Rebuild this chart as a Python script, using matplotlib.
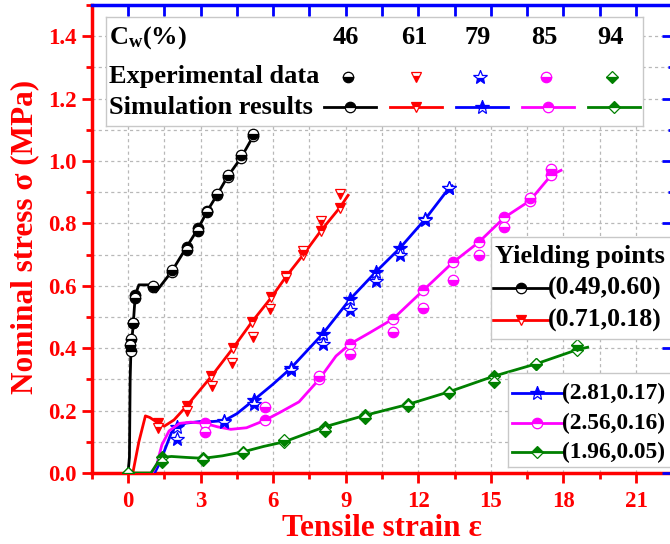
import numpy as np
import matplotlib
matplotlib.use("Agg")
import matplotlib.pyplot as plt
from matplotlib.lines import Line2D
from matplotlib.ticker import MultipleLocator

plt.rcParams['font.family'] = ['Liberation Serif', 'DejaVu Serif']
plt.rcParams['font.weight'] = 'bold'
plt.rcParams['mathtext.fontset'] = 'custom'
plt.rcParams['mathtext.rm'] = 'Liberation Serif:bold'
plt.rcParams['mathtext.it'] = 'Liberation Serif:bold'
plt.rcParams['mathtext.bf'] = 'Liberation Serif:bold'

W, H = 670, 544

# ---- data ----
cw_labels = ['46', '61', '79', '85', '94']
yield_labels = ['(0.49,0.60)', '(0.71,0.18)', '(2.81,0.17)', '(2.56,0.16)', '(1.96,0.05)']
colors = ['black', '#ff0000', '#0000ff', '#ff00ff', '#008000']
markers = ['o', 'v', '*', 'o', 'D']

# Cw = 46 %
sim46_x = [0, 0.06, 0.09, 0.12, 0.22, 0.30, 0.45, 0.85, 1.05, 1.15, 1.80, 2.43, 2.91, 3.28, 3.67, 4.12, 4.67, 5.18]
sim46_y = [0, 0.05, 0.30, 0.39, 0.48, 0.57, 0.603, 0.603, 0.595, 0.58, 0.645, 0.725, 0.785, 0.84, 0.89, 0.95, 1.01, 1.08]
sim46_mk = [3, 4, 5, 8, 10, 11, 12, 13, 14, 15, 16, 17]
exp46_x = [0.10, 0.12, 0.22, 0.30, 1.05, 1.80, 2.43, 2.91, 3.28, 3.67, 4.12, 4.67, 5.18]
exp46_y = [0.41, 0.43, 0.48, 0.56, 0.60, 0.65, 0.715, 0.775, 0.835, 0.895, 0.955, 1.02, 1.085]

# Cw = 61 %
sim61_x = [0.2, 0.45, 0.72, 0.9, 1.25, 1.5, 1.9, 2.43, 3.45, 4.34, 5.13, 5.93, 6.54, 7.25, 7.96, 8.75, 9.1]
sim61_y = [0, 0.10, 0.183, 0.178, 0.16, 0.15, 0.17, 0.215, 0.31, 0.40, 0.485, 0.563, 0.63, 0.70, 0.775, 0.85, 0.89]
sim61_mk = [4, 7, 8, 9, 10, 11, 12, 13, 14, 15]
exp61_x = [1.25, 2.43, 3.46, 4.29, 5.18, 5.87, 6.54, 7.25, 7.96, 8.75]
exp61_y = [0.145, 0.20, 0.278, 0.352, 0.436, 0.527, 0.625, 0.71, 0.808, 0.895]

# Cw = 79 %
sim79_x = [1.1, 1.3, 1.6, 1.8, 2.04, 2.4, 3.0, 3.5, 3.98, 4.5, 5.22, 6.0, 6.72, 8.05, 9.19, 10.25, 11.23, 12.29, 13.26, 13.4]
sim79_y = [0, 0.03, 0.09, 0.13, 0.148, 0.16, 0.165, 0.165, 0.168, 0.19, 0.235, 0.285, 0.335, 0.446, 0.558, 0.645, 0.72, 0.814, 0.912, 0.92]
sim79_mk = [4, 8, 10, 12, 13, 14, 15, 16, 17, 18]
exp79_x = [2.04, 3.98, 5.22, 6.72, 8.05, 9.19, 10.25, 11.23, 12.29, 13.26]
exp79_y = [0.108, 0.165, 0.22, 0.33, 0.414, 0.521, 0.615, 0.70, 0.81, 0.915]

# Cw = 85 %
sim85_x = [1.0, 1.2, 1.4, 1.7, 2.13, 2.6, 3.18, 3.7, 4.25, 4.9, 5.66, 6.3, 7.07, 7.9, 8.6, 9.19, 10.0, 10.96, 12.2, 13.43, 14.49, 15.56, 16.6, 17.5, 17.9]
sim85_y = [0, 0.03, 0.09, 0.135, 0.159, 0.163, 0.159, 0.148, 0.14, 0.145, 0.169, 0.195, 0.228, 0.30, 0.375, 0.414, 0.45, 0.494, 0.585, 0.675, 0.739, 0.819, 0.872, 0.955, 0.97]
sim85_mk = [6, 10, 13, 15, 17, 18, 19, 20, 21, 22, 23]
exp85_x = [3.18, 5.66, 7.9, 9.19, 10.96, 12.2, 13.43, 14.49, 15.56, 16.6, 17.5]
exp85_y = [0.132, 0.212, 0.31, 0.38, 0.452, 0.53, 0.62, 0.70, 0.79, 0.883, 0.975]

# Cw = 94 %
sim94_x = [0, 0.95, 1.2, 1.39, 1.8, 2.4, 3.11, 3.9, 4.77, 5.6, 6.46, 8.13, 9.81, 11.58, 13.26, 15.11, 16.88, 18.56, 19.0]
sim94_y = [0, 0, 0.03, 0.05, 0.053, 0.05, 0.047, 0.055, 0.068, 0.085, 0.10, 0.148, 0.185, 0.22, 0.26, 0.31, 0.35, 0.395, 0.403]
sim94_mk = [0, 3, 6, 8, 10, 11, 12, 13, 14, 15, 16, 17]
exp94_x = [0.0, 1.39, 3.11, 4.77, 6.46, 8.13, 9.81, 11.58, 13.26, 15.11, 16.88, 18.56]
exp94_y = [0.0, 0.035, 0.043, 0.065, 0.105, 0.135, 0.175, 0.215, 0.255, 0.292, 0.35, 0.41]

sims = [(sim46_x, sim46_y, sim46_mk), (sim61_x, sim61_y, sim61_mk), (sim79_x, sim79_y, sim79_mk),
        (sim85_x, sim85_y, sim85_mk), (sim94_x, sim94_y, sim94_mk)]
exps = [(exp46_x, exp46_y), (exp61_x, exp61_y), (exp79_x, exp79_y), (exp85_x, exp85_y), (exp94_x, exp94_y)]
msizes = [7.5, 7.5, 10, 7.5, 6.5]
FS = 19


def px_box(x0, y0, x1, y1):
    return [x0 / W, 1 - y1 / H, (x1 - x0) / W, (y1 - y0) / H]


fig = plt.figure(figsize=(W / 100, H / 100), dpi=100)
ax = fig.add_axes(px_box(91.7, 5, 672.3, 473))

for (sx, sy, mk), (ex, ey), c, m, ms in zip(sims, exps, colors, markers, msizes):
    ax.plot(sx, sy, color=c, lw=2, marker=m, markevery=mk, ms=ms, fillstyle='top',
            markerfacecolor=c, markerfacecoloralt='white', markeredgecolor=c, mew=0.9, zorder=3)
    ax.plot(ex, ey, ls='none', marker=m, ms=ms, fillstyle='bottom',
            markerfacecolor=c, markerfacecoloralt='white', markeredgecolor=c, mew=0.9, zorder=4)

ax.set_xlim(-1.5, 22.5)
ax.set_ylim(0, 1.5)
ax.xaxis.set_minor_locator(MultipleLocator(1.5))
ax.yaxis.set_minor_locator(MultipleLocator(0.1))
ax.set_xticks(np.arange(0, 22, 3))
ax.set_yticks(np.arange(0, 1.41, 0.2))
ax.set_yticklabels([f'{v:.1f}' for v in np.arange(0, 1.41, 0.2)])
ax.grid(True, which='both', ls=(0, (2.5, 2.5)), color='#b8b8b8', lw=0.9)
ax.set_axisbelow(True)
for s in ['top', 'right']:
    ax.spines[s].set_visible(False)
for s in ['left', 'bottom']:
    ax.spines[s].set_color('red')
    ax.spines[s].set_linewidth(2.5)
ax.tick_params(which='major', direction='out', length=7, width=2, color='red', labelcolor='red', labelsize=16.5)
ax.tick_params(which='minor', direction='out', length=4, width=2, color='red')
ax.tick_params(axis='x', pad=6)
ax.tick_params(axis='y', pad=4)

# blue top / right frame
ax2 = fig.add_axes(px_box(91.7, 5, 672.3, 473))
ax2.set_xlim(-1.5, 22.5)
ax2.set_ylim(0, 1.5)
ax2.patch.set_visible(False)
ax2.set_xticks(np.arange(0, 22.6, 1.5))
ax2.yaxis.set_major_locator(MultipleLocator(0.2))
ax2.yaxis.set_minor_locator(MultipleLocator(0.1))
for s in ['left', 'bottom']:
    ax2.spines[s].set_visible(False)
for s in ['top', 'right']:
    ax2.spines[s].set_color('#0000ff')
    ax2.spines[s].set_linewidth(2.5)
ax2.tick_params(which='both', left=False, bottom=False, top=True, right=True,
                labelleft=False, labelbottom=False, direction='in', color='#0000ff', width=2)
ax2.tick_params(axis='x', which='major', length=8)
ax2.tick_params(axis='y', which='major', length=7)
ax2.tick_params(axis='y', which='minor', length=3)

fig.text(382 / W, 1 - 536 / H, 'Tensile strain ε', color='red', fontsize=22.5,
         ha='center', va='baseline')
fig.text(24.5 / W, 1 - 237 / H, 'Nominal stress σ (MPa)', color='red', fontsize=22.5,
         ha='center', va='center', rotation=90)


def legend_axes(x0, y0, x1, y1):
    lg = fig.add_axes(px_box(x0, y0, x1, y1))
    lg.set_xlim(x0, x1)
    lg.set_ylim(y1, y0)
    lg.set_xticks([])
    lg.set_yticks([])
    for s in lg.spines.values():
        s.set_color('#c8c8c8')
        s.set_linewidth(1)
    return lg


def key(lg, x0, x1, y, c, m, ms):
    lg.add_line(Line2D([x0, x1], [y, y], color=c, lw=2))
    lg.add_line(Line2D([(x0 + x1) / 2], [y], ls='none', marker=m, ms=ms, fillstyle='top',
                       markerfacecolor=c, markerfacecoloralt='white', markeredgecolor=c, mew=0.9))


# table legend
lg1 = legend_axes(105.7, 16.7, 643, 126)
lg1.text(109, 38, r'C$_{\mathrm{w}}$(%)', fontsize=FS, va='center')
lg1.text(109, 76, 'Experimental data', fontsize=FS, va='center')
lg1.text(109, 107, 'Simulation results', fontsize=FS, va='center')
num_x = [346, 414, 478, 544, 610]
for i, (lab, c, m, ms) in enumerate(zip(cw_labels, colors, markers, msizes)):
    lg1.text(num_x[i], 38, lab, fontsize=FS, va='center', ha='center')
    lg1.plot([num_x[i] + 2], [77], ls='none', marker=m, ms=ms, fillstyle='bottom',
             markerfacecolor=c, markerfacecoloralt='white', markeredgecolor=c, mew=0.9)
    key(lg1, 324 + 66 * i, 376 + 66 * i, 107, c, m, ms)

# yielding points legends
lg2 = legend_axes(491, 237, 680, 339)
lg2.text(495, 256, 'Yielding points', fontsize=FS, va='center')
for j, yy in enumerate([288, 320]):
    key(lg2, 493, 548, yy, colors[j], markers[j], msizes[j])
    lg2.text(548, yy, yield_labels[j], fontsize=18.5, va='center')

lg3 = legend_axes(508, 373, 680, 467)
for j, yy in zip([2, 3, 4], [393, 423, 452]):
    key(lg3, 512, 562, yy, colors[j], markers[j], msizes[j])
    lg3.text(562, yy, yield_labels[j], fontsize=16.8, va='center')

fig.savefig('out.png', dpi=100)
